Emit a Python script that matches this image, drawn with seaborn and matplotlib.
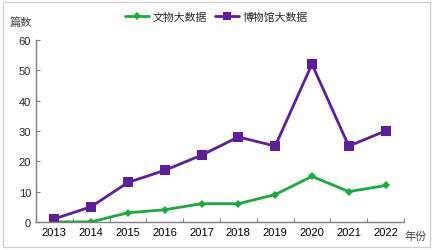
import matplotlib

matplotlib.use("Agg")

import matplotlib.pyplot as plt
import numpy as np
import pandas as pd
import seaborn as sns
from matplotlib.patches import Rectangle

years = ["2013", "2014", "2015", "2016", "2017", "2018", "2019", "2020", "2021", "2022"]
relics = [0, 0, 3, 4, 6, 6, 9, 15, 10, 12]
museums = [1, 5, 13, 17, 22, 28, 25, 52, 25, 30]
series_names = ["文物大数据", "博物馆大数据"]
y_ticks = [0, 10, 20, 30, 40, 50, 60]

GREEN = "#17ad3a"
PURPLE = "#5e1c9e"
AXIS = "#7f7f7f"

df = pd.DataFrame({
    "year": years * 2,
    "count": relics + museums,
    "series": [series_names[0]] * len(years) + [series_names[1]] * len(years),
})

sns.set_theme(style="white")
plt.rcParams["font.family"] = ["Liberation Sans", "Noto Sans CJK SC", "DejaVu Sans"]

fig = plt.figure(figsize=(4.33, 2.51), dpi=100)
ax = fig.add_axes([0.083, 0.112, 0.85, 0.725])
fig.patches.append(Rectangle((0.007, 0.012), 0.985, 0.976, transform=fig.transFigure,
                             fill=False, edgecolor="#d0d0d0", linewidth=1))

sns.lineplot(data=df, x="year", y="count", hue="series", style="series",
             palette={series_names[0]: GREEN, series_names[1]: PURPLE},
             markers={series_names[0]: "D", series_names[1]: "s"},
             dashes=False, linewidth=2,
             markersize=0, ax=ax, legend=True)
# marker sizes differ per series, so set them on the lines
for line in ax.get_lines():
    if line.get_color() == GREEN:
        line.set_markersize(4.5)
    else:
        line.set_markersize(7)
    line.set_markeredgewidth(0)

ax.set_xlim(-0.5, len(years) - 0.5)
ax.set_ylim(0, 60)
ax.set_yticks(y_ticks)
ax.set_xticks(np.arange(len(years)))
ax.set_xticks(np.arange(len(years) + 1) - 0.5, minor=True)
ax.tick_params(axis="x", which="major", length=0, labelsize=8, pad=4, colors="black")
ax.tick_params(axis="x", which="minor", direction="in", length=3, color=AXIS, width=0.8, bottom=True)
ax.tick_params(axis="y", direction="in", length=3, color=AXIS, width=0.8, labelsize=8, left=True)
ax.set_xlabel("")
ax.set_ylabel("")
sns.despine(ax=ax)
for s in ("left", "bottom"):
    ax.spines[s].set_color(AXIS)
    ax.spines[s].set_linewidth(1)

handles, labels = ax.get_legend_handles_labels()
for h in handles:
    h.set_markersize(4.5 if h.get_color() == GREEN else 6)
ax.legend(handles, labels, loc="center", bbox_to_anchor=(0.5, 0.928), bbox_transform=fig.transFigure,
          ncol=2, frameon=False, handlelength=2.2, handletextpad=0.4, columnspacing=0.7,
          prop={"family": ["Noto Sans CJK SC"], "size": 7.8})

fig.text(0.023, 0.91, "篇数", fontsize=8, color="#404040", family=["Noto Sans CJK SC"], va="center")
fig.text(0.935, 0.055, "年份", fontsize=8, color="#404040", family=["Noto Sans CJK SC"], va="center")

fig.savefig("out.png", dpi=100)
